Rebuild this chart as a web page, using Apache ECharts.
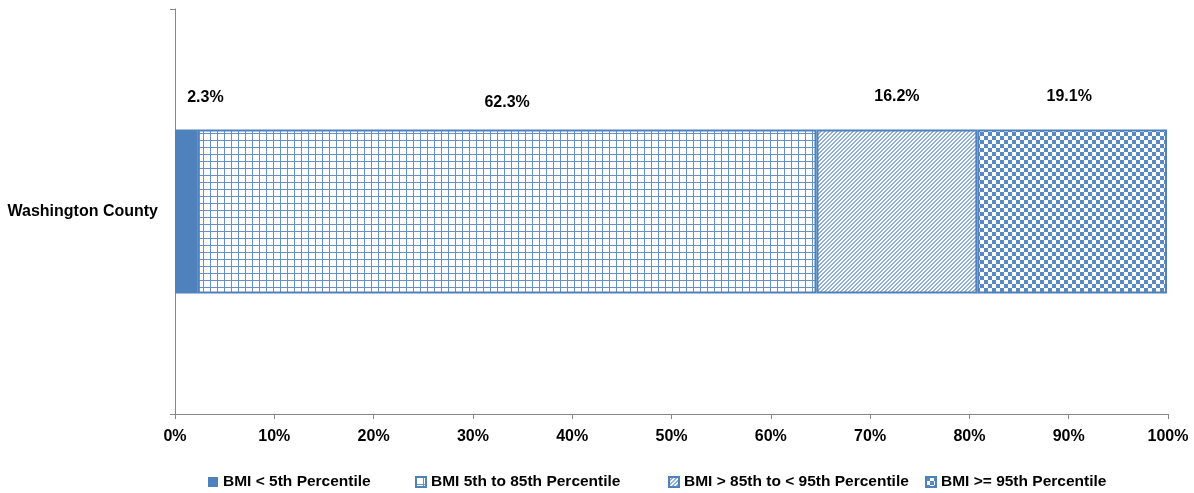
<!DOCTYPE html>
<html>
<head>
<meta charset="utf-8">
<script src="https://cdn.jsdelivr.net/npm/echarts@6/dist/echarts.min.js"></script>
<style>html,body{margin:0;padding:0;background:#fff}#c{width:1194px;height:493px}</style>
</head>
<body>
<div id="c"></div>
<script>
var categories = ['Washington County'];
var seriesNames = ['BMI < 5th Percentile', 'BMI 5th to 85th Percentile', 'BMI > 85th to < 95th Percentile', 'BMI >= 95th Percentile'];
var seriesValues = [[2.3], [62.3], [16.2], [19.1]];
var xTicks = [0, 10, 20, 30, 40, 50, 60, 70, 80, 90, 100];

var BLUE = '#4F81BD';
function mk(w, h, draw) {
  var c = document.createElement('canvas'); c.width = w; c.height = h;
  var g = c.getContext('2d'); g.fillStyle = '#fff'; g.fillRect(0, 0, w, h); draw(g); return c;
}
var gridPat = mk(7, 7, function (g) { g.fillStyle = '#6691C6'; g.fillRect(0, 0, 7, 1); g.fillRect(0, 0, 1, 7); });
var diagPat = mk(4, 4, function (g) {
  g.fillStyle = '#8EAEDB';
  for (var i = 0; i < 4; i++) { g.fillRect(i, 3 - i, 1, 1); g.fillRect((i + 1) % 4, 3 - i, 1, 1); }
});
var checkPat = mk(8, 8, function (g) { g.fillStyle = '#5A89C2'; g.fillRect(0, 0, 4, 4); g.fillRect(4, 4, 4, 4); });

var fills = [BLUE, { image: gridPat, repeat: 'repeat' }, { image: diagPat, repeat: 'repeat' }, { image: checkPat, repeat: 'repeat' }];
var labelOffsets = [[19, 3], [0, 8], [0, 2], [-3, 2]];
var legendLefts = [208, 415, 668, 925];
var FONT = 'Liberation Sans';

var chart = echarts.init(document.getElementById('c'), null, { renderer: 'canvas' });
chart.setOption({
  animation: false,
  grid: { left: 175, right: 26, top: 9, bottom: 79, containLabel: false },
  legend: seriesNames.map(function (n, i) {
    return {
      bottom: 3, left: legendLefts[i], itemWidth: 10, itemHeight: 10, padding: 0,
      icon: 'rect', selectedMode: false,
      textStyle: { fontFamily: FONT, fontWeight: 'bold', fontSize: 15.5, color: '#000' },
      data: [n]
    };
  }),
  xAxis: {
    type: 'value', min: 0, max: 100, interval: 10,
    axisLine: { show: true, lineStyle: { color: '#868686', width: 1 } },
    axisTick: { show: true, length: 5, lineStyle: { color: '#868686' } },
    splitLine: { show: false },
    axisLabel: { formatter: function (v) { return xTicks.indexOf(v) >= 0 ? v + '%' : ''; }, margin: 15, fontFamily: FONT, fontWeight: 'bold', fontSize: 16, color: '#000' }
  },
  yAxis: {
    type: 'category', data: categories,
    axisLine: { show: true, lineStyle: { color: '#868686', width: 1 } },
    axisTick: { show: true, length: 5, lineStyle: { color: '#868686' } },
    axisLabel: { margin: 17, fontFamily: FONT, fontWeight: 'bold', fontSize: 16, color: '#000' }
  },
  series: seriesNames.map(function (n, i) {
    return {
      name: n, type: 'bar', stack: 'total', data: seriesValues[i],
      barWidth: 164,
      itemStyle: { color: fills[i], borderColor: BLUE, borderWidth: i === 0 ? 0 : 2 },
      label: {
        show: true, position: 'top', distance: 27, offset: labelOffsets[i],
        formatter: function (p) { return p.value.toFixed(1) + '%'; },
        fontFamily: FONT, fontWeight: 'bold', fontSize: 16, color: '#000'
      }
    };
  })
});
</script>
</body>
</html>
